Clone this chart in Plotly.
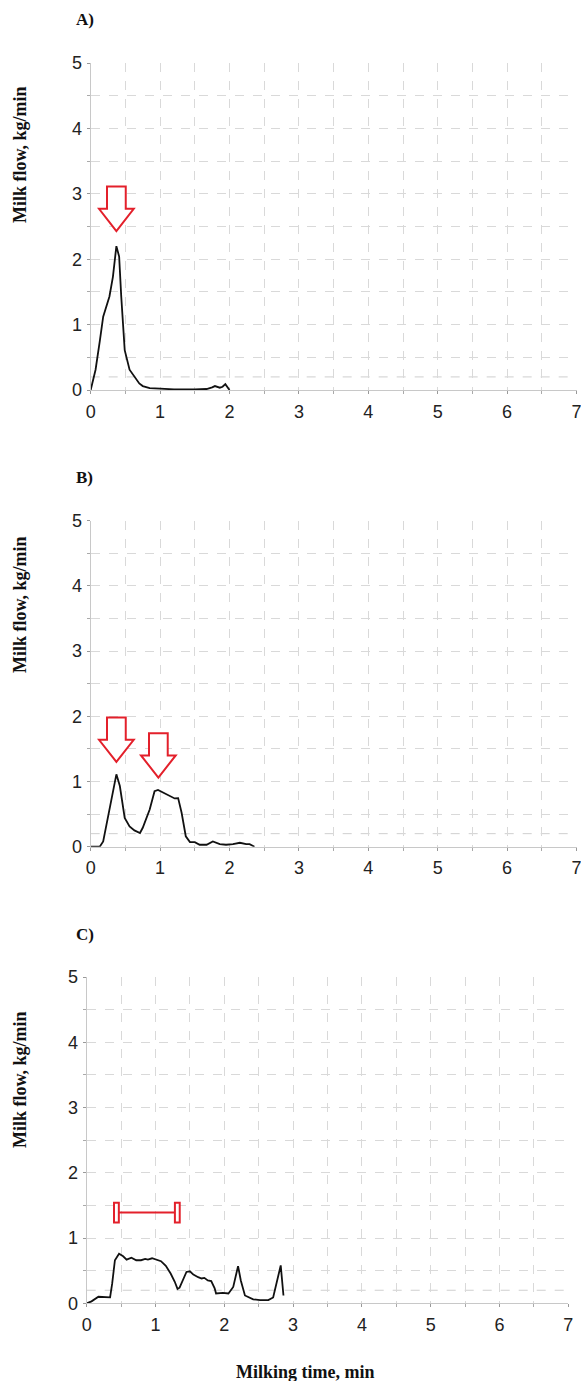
import plotly.graph_objects as go

# Milk flow curves (time in min, flow in kg/min)
time_a = [0, 0.07, 0.13, 0.18, 0.27, 0.32, 0.37, 0.41, 0.44, 0.49, 0.56, 0.63, 0.70,
          0.75, 0.85, 1.0, 1.2, 1.5, 1.67, 1.75, 1.79, 1.86, 1.90, 1.94, 2.0]
flow_a = [0, 0.31, 0.74, 1.12, 1.43, 1.73, 2.20, 2.04, 1.43, 0.61, 0.31, 0.20, 0.10,
          0.06, 0.03, 0.02, 0.01, 0.01, 0.015, 0.04, 0.06, 0.035, 0.05, 0.09, 0.0]

time_b = [0, 0.13, 0.18, 0.25, 0.32, 0.37, 0.42, 0.49, 0.56, 0.63, 0.71, 0.75, 0.85,
          0.92, 0.97, 1.04, 1.14, 1.21, 1.26, 1.31, 1.37, 1.43, 1.50, 1.57, 1.67,
          1.76, 1.86, 1.95, 2.05, 2.15, 2.24, 2.29, 2.36]
flow_b = [0, 0, 0.08, 0.47, 0.88, 1.11, 0.93, 0.44, 0.31, 0.25, 0.21, 0.29, 0.57,
          0.85, 0.87, 0.83, 0.78, 0.74, 0.745, 0.52, 0.16, 0.07, 0.07, 0.03, 0.03,
          0.08, 0.04, 0.03, 0.04, 0.06, 0.04, 0.04, 0.0]

time_c = [0, 0.07, 0.17, 0.26, 0.34, 0.37, 0.41, 0.47, 0.53, 0.58, 0.65, 0.72, 0.79,
          0.85, 0.89, 0.95, 1.01, 1.08, 1.15, 1.22, 1.28, 1.32, 1.35, 1.41, 1.45,
          1.50, 1.55, 1.62, 1.67, 1.71, 1.76, 1.81, 1.86, 1.88, 1.98, 2.06, 2.13,
          2.20, 2.24, 2.30, 2.42, 2.52, 2.64, 2.71, 2.77, 2.82, 2.86]
flow_c = [0, 0.03, 0.10, 0.09, 0.09, 0.30, 0.66, 0.76, 0.72, 0.67, 0.70, 0.66, 0.66,
          0.68, 0.67, 0.69, 0.67, 0.645, 0.575, 0.456, 0.33, 0.22, 0.24, 0.40, 0.48,
          0.49, 0.44, 0.40, 0.38, 0.39, 0.35, 0.34, 0.23, 0.15, 0.16, 0.15, 0.25,
          0.57, 0.35, 0.12, 0.06, 0.05, 0.05, 0.09, 0.35, 0.58, 0.12]

panel_labels = ["A)", "B)", "C)"]
x_ticks = [0, 1, 2, 3, 4, 5, 6, 7]
y_ticks = [0, 1, 2, 3, 4, 5]
threshold = 0.2  # kg/min

# Marker annotations: arrow tips (x, y) per panel, bracket span for panel C
arrows_a = [(0.37, 2.43)]
arrows_b = [(0.37, 1.30), (0.975, 1.06)]
bracket_c = {"x0": 0.397, "x1": 1.352, "y": 1.39, "cap_w": 0.07, "cap_h": 0.15}

RED = "#e3202b"
GRID = "#d9d9d9"
TICK_FONT = dict(family="Liberation Sans, Arial, sans-serif", size=18, color="#222")
TITLE_FONT = dict(family="Liberation Serif, Times New Roman, serif", size=17, color="#111")

W, H = 581, 1381
# plot-area pixel boxes (left, right, top, bottom)
boxes = [(90.7, 576.5, 63.0, 390.0),
         (90.7, 576.5, 520.7, 846.7),
         (86.7, 568.3, 977.0, 1303.3)]
letter_y = [19.5, 477.0, 934.0]
ytitle_y = [155.0, 605.0, 1080.0]

fig = go.Figure()
series = [(time_a, flow_a), (time_b, flow_b), (time_c, flow_c)]

for i, ((t, f), (l, r, tp, bt)) in enumerate(zip(series, boxes)):
    n = "" if i == 0 else str(i + 1)
    fig.add_trace(go.Scatter(x=t, y=f, mode="lines", xaxis="x" + n, yaxis="y" + n,
                             line=dict(color="#111", width=1.8), showlegend=False,
                             hoverinfo="skip"))
    common = dict(showline=True, linecolor="#c8c8c8", linewidth=1, automargin=False,
                  showgrid=True, gridcolor=GRID, griddash="dash", gridwidth=1,
                  zeroline=False, ticks="outside", ticklen=3, tickcolor="#999",
                  tickfont=TICK_FONT, fixedrange=True, ticklabeloverflow="allow",
                  minor=dict(dtick=0.5, ticks="outside", ticklen=3, tickcolor="#aaa",
                             showgrid=True, gridcolor=GRID, griddash="dash", gridwidth=1))
    fig.update_layout(**{
        "xaxis" + n: dict(common, domain=[l / W, r / W], range=[0, 7],
                          tickvals=x_ticks, anchor="y" + n, ticklabelstandoff=2),
        "yaxis" + n: dict(common, domain=[1 - bt / H, 1 - tp / H], range=[0, 5],
                          tickvals=y_ticks, anchor="x" + n, ticklabelstandoff=1),
    })
    # threshold line
    fig.add_shape(type="line", xref="x" + n, yref="y" + n, x0=0, x1=7,
                  y0=threshold, y1=threshold,
                  line=dict(color="#cfcfcf", width=1, dash="dash"), layer="below")
    # panel letter
    fig.add_annotation(text="<b>%s</b>" % panel_labels[i], xref="paper", yref="paper",
                       x=74 / W, y=1 - letter_y[i] / H, xanchor="left", yanchor="middle",
                       showarrow=False, font=TITLE_FONT)
    # y title
    fig.add_annotation(text="<b>Milk flow, kg/min</b>", xref="paper", yref="paper",
                       x=20 / W, y=1 - ytitle_y[i] / H, textangle=-90,
                       xanchor="center", yanchor="middle", showarrow=False,
                       font=dict(TITLE_FONT, size=18))


def arrow_path(xt, yt, shaft=0.135, head=0.25, total=0.68, head_h=0.34):
    pts = [(xt - shaft, yt + total), (xt + shaft, yt + total), (xt + shaft, yt + head_h),
           (xt + head, yt + head_h), (xt, yt), (xt - head, yt + head_h),
           (xt - shaft, yt + head_h)]
    return "M " + " L ".join("%g,%g" % p for p in pts) + " Z"


for ax, arrows in (("", arrows_a), ("2", arrows_b)):
    for xt, yt in arrows:
        fig.add_shape(type="path", path=arrow_path(xt, yt), xref="x" + ax, yref="y" + ax,
                      line=dict(color=RED, width=2), fillcolor="white")

b = bracket_c
fig.add_shape(type="line", xref="x3", yref="y3", x0=b["x0"] + b["cap_w"],
              x1=b["x1"] - b["cap_w"], y0=b["y"], y1=b["y"],
              line=dict(color=RED, width=2))
for xs in (b["x0"], b["x1"] - b["cap_w"]):
    fig.add_shape(type="rect", xref="x3", yref="y3", x0=xs, x1=xs + b["cap_w"],
                  y0=b["y"] - b["cap_h"], y1=b["y"] + b["cap_h"],
                  line=dict(color=RED, width=2), fillcolor="white")

fig.add_annotation(text="<b>Milking time, min</b>", xref="paper", yref="paper",
                   x=305 / W, y=1 - 1372 / H, xanchor="center", yanchor="middle",
                   showarrow=False, font=dict(TITLE_FONT, size=18))

fig.update_layout(width=W, height=H, margin=dict(l=0, r=0, t=0, b=0, autoexpand=False),
                  plot_bgcolor="white", paper_bgcolor="white")

fig.write_html("out.html", config={"displayModeBar": False},
               post_script="document.body.style.margin='0';"
                           "document.body.style.overflow='hidden';")
